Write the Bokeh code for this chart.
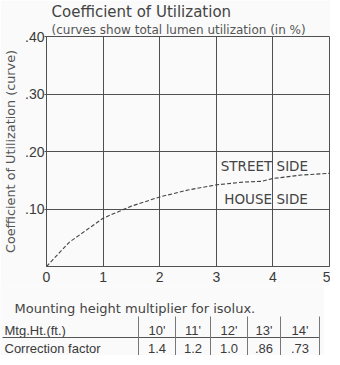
from bokeh.plotting import figure
from bokeh.models import Range1d, FixedTicker, Title
from bokeh.layouts import column
from bokeh.core.properties import value
from bokeh.embed import file_html
from bokeh.resources import INLINE

# ---- data ----
spacing_ratio = [0, 0.4, 1.0, 1.5, 2.0, 2.5, 3.0, 3.5, 3.8, 4.0, 4.5, 5.0]
cu_values = [0, 0.042, 0.084, 0.105, 0.121, 0.133, 0.142, 0.147, 0.148, 0.153, 0.159, 0.162]
x_ticks = [0, 1, 2, 3, 4, 5]
x_tick_labels = ["0", "1", "2", "3", "4", "5"]
y_ticks = [0.1, 0.2, 0.3, 0.4]
y_tick_labels = [".10", ".20", ".30", ".40"]
side_labels = ["STREET SIDE", "HOUSE SIDE"]
side_x = [3.85, 3.88]
side_y = [0.174, 0.118]

table_row_labels = ["Mtg.Ht.(ft.)", "Correction factor"]
mtg_heights = ["10'", "11'", "12'", "13'", "14'"]
correction_factors = ["1.4", "1.2", "1.0", ".86", ".73"]

BG = "#fafafa"
INK = "#3a3a3a"

p = figure(frame_width=283, frame_height=230, x_range=Range1d(0, 5), y_range=Range1d(0, 0.4),
           output_backend="svg", toolbar_location=None, frame_align=False,
           min_border_left=40, min_border_right=1, min_border_top=30, min_border_bottom=20,
           background_fill_color=BG, border_fill_color=BG)

# main title (outermost) and subtitle (closest to frame)
p.title.text = "Coefficient of Utilization"
p.title.text_font = "DejaVu Sans"
p.title.text_font_size = "15px"
p.title.text_font_style = "normal"
p.title.text_color = "#444444"
p.title.align = "left"
p.title.offset = 5
p.title.standoff = 0
sub_title = Title(text="(curves show total lumen utilization (in %)", align="left", offset=5, standoff=0,
                  text_font="DejaVu Sans", text_font_size="12px", text_font_style="normal",
                  text_color="#555555")
p.add_layout(sub_title, "above")

p.outline_line_color = "#505050"
p.outline_line_width = 1

p.xaxis.ticker = FixedTicker(ticks=x_ticks)
p.xaxis.major_label_overrides = {t: l for t, l in zip(x_ticks, x_tick_labels)}
p.yaxis.ticker = FixedTicker(ticks=y_ticks)
p.yaxis.major_label_overrides = {t: l for t, l in zip(y_ticks, y_tick_labels)}

for ax in (p.xaxis, p.yaxis):
    ax.axis_line_color = "#505050"
    ax.major_tick_line_color = "#505050"
    ax.major_tick_in = 0
    ax.minor_tick_line_color = None
    ax.major_label_text_font = "Liberation Sans"
    ax.major_label_text_font_size = "14px"
    ax.major_label_text_color = INK

p.xaxis.major_tick_out = 0
p.xaxis.major_label_standoff = 5
p.yaxis.major_tick_out = 2
p.yaxis.major_label_standoff = 0

p.yaxis.axis_label = "Coefficient of Utilization (curve)"
p.yaxis.axis_label_text_font = "DejaVu Sans"
p.yaxis.axis_label_text_font_size = "12.8px"
p.yaxis.axis_label_text_font_style = "normal"
p.yaxis.axis_label_text_color = "#555555"
p.yaxis.axis_label_standoff = 4

p.xgrid.ticker = FixedTicker(ticks=x_ticks)
p.ygrid.ticker = FixedTicker(ticks=y_ticks)
p.grid.grid_line_color = "#505050"
p.grid.grid_line_alpha = 1.0
p.grid.grid_line_width = 1

p.line(spacing_ratio, cu_values, line_color="#444444", line_width=1.1, line_dash="4 2")

p.text(x=side_x, y=side_y, text=side_labels, text_align="center", text_baseline="middle",
       text_font=value("DejaVu Sans"), text_font_size="13.5px", text_color="#444444")

# ---- table ----
T_H = 69
t = figure(width=324, height=T_H, x_range=Range1d(0, 324), y_range=Range1d(T_H, 0),
           output_backend="svg", toolbar_location=None, frame_align=False,
           x_axis_location=None, y_axis_location=None,
           min_border_left=0, min_border_right=0, min_border_top=0, min_border_bottom=0,
           background_fill_color=BG, border_fill_color=BG)
t.grid.visible = False
t.outline_line_color = None

col_edges = [138, 175, 210, 247, 280, 319]
row_y = [44, 62]
col_centers = [(a + b) / 2 for a, b in zip(col_edges[:-1], col_edges[1:])]

t.text(x=[14], y=[22], text=["Mounting height multiplier for isolux."], text_baseline="middle",
       text_font=value("DejaVu Sans"), text_font_size="13px", text_color="#444444")
t.text(x=[4, 4], y=row_y, text=table_row_labels, text_baseline="middle",
       text_font=value("Liberation Sans"), text_font_size="13px", text_color=INK)
t.text(x=col_centers, y=[row_y[0]] * 5, text=mtg_heights, text_align="center", text_baseline="middle",
       text_font=value("Liberation Sans"), text_font_size="13px", text_color=INK)
t.text(x=col_centers, y=[row_y[1]] * 5, text=correction_factors, text_align="center", text_baseline="middle",
       text_font=value("Liberation Sans"), text_font_size="13px", text_color=INK)
t.segment(x0=[2], y0=[51], x1=[col_edges[-1]], y1=[51], line_color="#555555", line_width=1)
t.segment(x0=col_edges, y0=[30] * 6, x1=col_edges, y1=[T_H] * 6, line_color="#777777", line_width=1)

layout = column(p, t, spacing=0)
open("out.html", "w").write(file_html(layout, INLINE))
